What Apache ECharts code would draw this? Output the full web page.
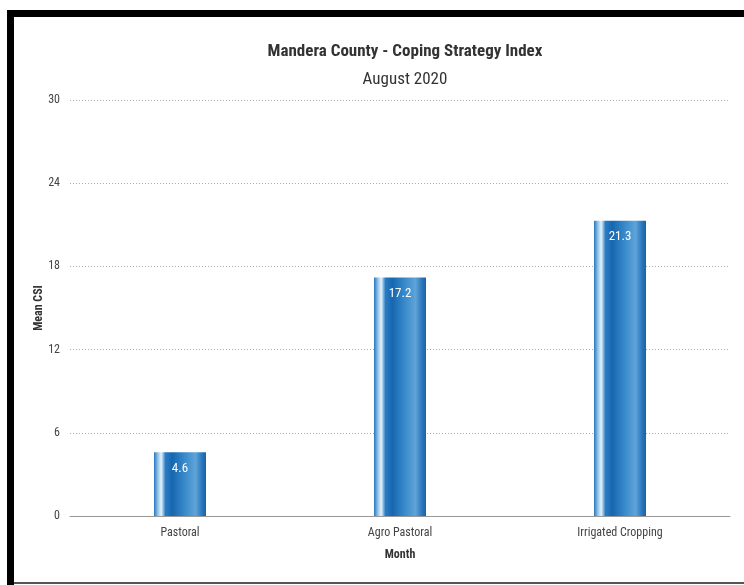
<!DOCTYPE html>
<html><head><meta charset="utf-8">
<script src="https://cdn.jsdelivr.net/npm/echarts@6/dist/echarts.min.js"></script>
<style>html,body{margin:0;padding:0;background:#fff}#c{width:744px;height:585px}</style>
</head><body><div id="c"></div>
<script>
const categories = ['Pastoral', 'Agro Pastoral', 'Irrigated Cropping'];
const values = [4.6, 17.2, 21.3];
const yTicks = [0, 6, 12, 18, 24, 30];

const FONT = '"Liberation Sans Narrow", "Roboto Condensed", "Liberation Sans", sans-serif';
const chart = echarts.init(document.getElementById('c'));
const barColor = new echarts.graphic.LinearGradient(0, 0, 1, 0, [
  {offset: 0, color: '#2676bd'},
  {offset: 0.08, color: '#9cc8ea'},
  {offset: 0.14, color: '#e4f1fa'},
  {offset: 0.22, color: '#2a7cc2'},
  {offset: 0.35, color: '#1767b0'},
  {offset: 0.6, color: '#3a8bcb'},
  {offset: 0.8, color: '#5fa4d8'},
  {offset: 0.92, color: '#2a78bd'},
  {offset: 1, color: '#1a62a6'}
]);
chart.setOption({
  animation: false,
  textStyle: {fontFamily: FONT},
  title: [
    {text: 'Mandera County - Coping Strategy Index', left: 400, top: 38, textAlign: 'center',
     textStyle: {fontSize: 17, fontWeight: 'bold', color: '#333', fontFamily: FONT}},
    {text: 'August 2020', left: 400, top: 66, textAlign: 'center',
     textStyle: {fontSize: 17, fontWeight: 'normal', color: '#333', fontFamily: FONT}}
  ],
  graphic: [
    {type: 'rect', shape: {x: 7, y: 10, width: 740, height: 7}, style: {fill: '#000'}},
    {type: 'rect', shape: {x: 7, y: 10, width: 7, height: 580}, style: {fill: '#000'}},
    {type: 'rect', shape: {x: 14, y: 582, width: 740, height: 2}, style: {fill: '#555'}}
  ],
  grid: {left: 70, right: 14, top: 100, bottom: 69},
  xAxis: {
    type: 'category', data: categories,
    name: 'Month', nameLocation: 'middle', nameGap: 33,
    nameTextStyle: {fontSize: 12, fontWeight: 'bold', color: '#333', fontFamily: FONT},
    axisLine: {lineStyle: {color: '#999', width: 1}},
    axisTick: {show: false},
    axisLabel: {fontSize: 12, color: '#444', margin: 11, fontFamily: FONT}
  },
  yAxis: {
    type: 'value', min: 0, max: 30, interval: 6,
    name: 'Mean CSI', nameLocation: 'middle', nameGap: 25, nameMoveOverlap: false,
    nameTextStyle: {fontSize: 12, fontWeight: 'bold', color: '#333', fontFamily: FONT},
    axisLine: {show: false}, axisTick: {show: false},
    axisLabel: {fontSize: 12, color: '#444', margin: 10, fontFamily: FONT,
      formatter: v => yTicks.includes(v) ? String(v) : ''},
    splitLine: {lineStyle: {color: '#aaa', type: [1, 2], width: 1}}
  },
  series: [{
    type: 'bar', data: values, barWidth: 52,
    itemStyle: {color: barColor},
    label: {show: true, position: 'insideTop', distance: 10, color: '#fff', fontSize: 13, fontFamily: FONT}
  }]
});
</script></body></html>
